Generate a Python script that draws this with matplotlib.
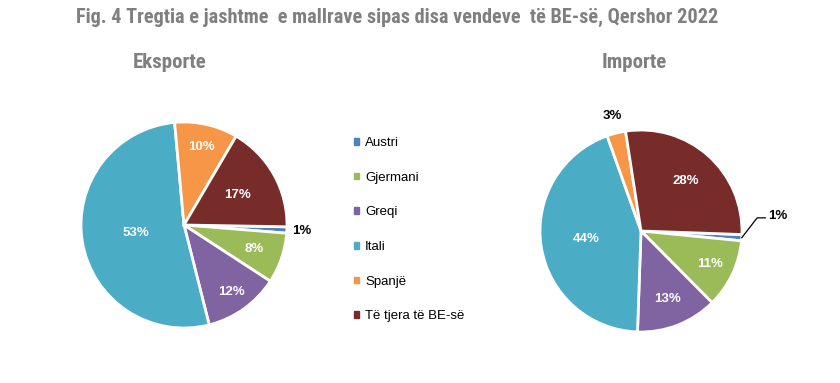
import numpy as np
import matplotlib
matplotlib.use("Agg")
import matplotlib.pyplot as plt

plt.rcParams["font.family"] = ["Liberation Sans", "DejaVu Sans"]
NARROW = ["Roboto Condensed", "Liberation Sans", "DejaVu Sans"]

categories = ["Austri", "Gjermani", "Greqi", "Itali", "Spanjë", "Të tjera të BE-së"]
eksporte = [1, 8, 12, 53, 10, 17]
importe = [1, 11, 13, 44, 3, 28]
title = "Fig. 4 Tregtia e jashtme  e mallrave sipas disa vendeve  të BE-së, Qershor 2022"

colors = ["#4F81BD", "#9BBB59", "#8064A2", "#4BACC6", "#F79646", "#772C2A"]
GRAY = "#7F7F7F"

W, H = 840, 383
fig = plt.figure(figsize=(W / 100, H / 100), dpi=100)


def pie_axes(cx, cy, r):
    ax = fig.add_axes([(cx - r) / W, 1 - (cy + r) / H, 2 * r / W, 2 * r / H])
    ax.axis("off")
    return ax


def draw_pie(ax, values, start, dists, outside):
    wedges, _, autos = ax.pie(values, colors=colors, startangle=start, counterclock=False,
                              radius=1, autopct="%d%%", normalize=True,
                              wedgeprops=dict(edgecolor="white", linewidth=2))
    ax.set_xlim(-1, 1)
    ax.set_ylim(-1, 1)
    ax.set_aspect("equal")
    for w, t, v, d in zip(wedges, autos, values, dists):
        w.set_clip_on(False)
        t.set_text(f"{v}%")
        th = np.deg2rad((w.theta1 + w.theta2) / 2)
        t.set_position((d * np.cos(th), d * np.sin(th)))
        t.set_fontsize(9.5)
        t.set_fontweight("bold")
        t.set_clip_on(False)
        t.set_color("black" if outside(v) else "white")
    return wedges, autos


# left pie: exports
ax1 = pie_axes(184, 225, 103)
draw_pie(ax1, eksporte, -1, [1.14, 0.72, 0.8, 0.47, 0.78, 0.6], lambda v: v <= 1)

# right pie: imports
ax2 = pie_axes(641, 231, 101)
w2, a2 = draw_pie(ax2, importe, -2, [1.0, 0.76, 0.72, 0.55, 1.17, 0.66], lambda v: v <= 3)
# leader line + label for 1%
th = np.deg2rad((w2[0].theta1 + w2[0].theta2) / 2)
p0 = (1.0 * np.cos(th), 1.0 * np.sin(th))
ax2.plot([p0[0], 1.15, 1.23], [p0[1], 0.13, 0.13], color="black", lw=0.9, clip_on=False)
a2[0].set_position((1.35, 0.15))

fig.text(397 / W, 1 - 17 / H, title, ha="center", va="center", fontsize=14.6,
         fontweight="bold", color=GRAY, family=NARROW)
fig.text(170 / W, 1 - 62 / H, "Eksporte", ha="center", va="center", fontsize=15,
         fontweight="bold", color=GRAY, family=NARROW)
fig.text(634 / W, 1 - 62 / H, "Importe", ha="center", va="center", fontsize=15,
         fontweight="bold", color=GRAY, family=NARROW)

handles = [plt.Rectangle((0, 0), 1, 1, color=c) for c in colors]
fig.legend(handles, categories, loc="upper left", bbox_to_anchor=(354 / W, 1 - 137 / H),
           frameon=False, handlelength=0.4, handleheight=0.4,
           handletextpad=0.45, labelspacing=1.72, borderpad=0, borderaxespad=0,
           prop={"size": 9.5})

fig.savefig("out.png", dpi=100)
